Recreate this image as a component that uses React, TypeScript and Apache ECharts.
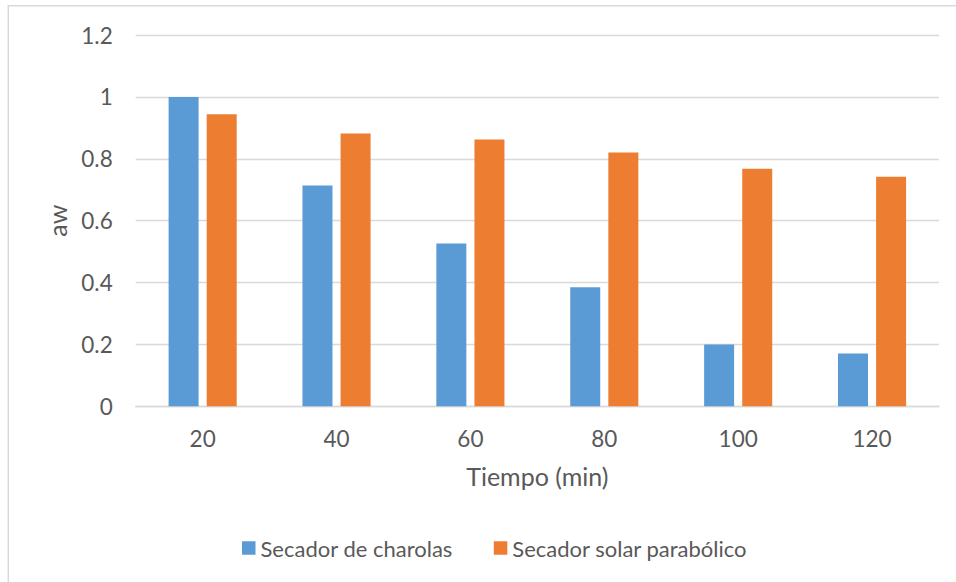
import React, { useEffect, useRef } from "react";
import * as echarts from "echarts";

const categories = ["20", "40", "60", "80", "100", "120"];
const charolas = [1.0, 0.714, 0.526, 0.385, 0.2, 0.171];
const parabolico = [0.944, 0.882, 0.862, 0.82, 0.768, 0.742];
const yTicks = { min: 0, max: 1.2, interval: 0.2 };

const FONT = "Lato";
const TEXT = "#595959";
const GRID = "#d9d9d9";

export default function App() {
  const ref = useRef<HTMLDivElement>(null);
  useEffect(() => {
    if (!ref.current) return;
    const chart = echarts.init(ref.current, null, { renderer: "svg" });
    chart.setOption({
      animation: false,
      backgroundColor: "#ffffff",
      textStyle: { fontFamily: FONT, color: TEXT },
      graphic: [
        {
          type: "rect",
          shape: { x: 8.3, y: 5.8, width: 1000, height: 1000 },
          style: { fill: "none", stroke: GRID, lineWidth: 1.5 },
          silent: true,
        },
      ],
      grid: { left: 135.7, right: 17, top: 35, bottom: 175.7, containLabel: false },
      legend: {
        left: 237,
        top: 532,
        itemWidth: 13.5,
        itemHeight: 13.5,
        itemGap: 41,
        icon: "rect",
        textStyle: { fontFamily: FONT, fontSize: 22, color: TEXT },
        data: ["Secador de charolas", "Secador solar parabólico"],
      },
      xAxis: {
        type: "category",
        data: categories,
        name: "Tiempo (min)",
        nameLocation: "middle",
        nameGap: 57,
        nameTextStyle: { fontFamily: FONT, fontSize: 25, color: TEXT },
        axisLine: { lineStyle: { color: GRID, width: 1.3 } },
        axisTick: { show: false },
        axisLabel: { fontFamily: FONT, fontSize: 22.5, color: TEXT, margin: 21 },
      },
      yAxis: {
        type: "value",
        min: yTicks.min,
        max: yTicks.max,
        interval: yTicks.interval,
        name: "aw",
        nameLocation: "middle",
        nameGap: 66,
        nameTextStyle: { fontFamily: FONT, fontSize: 25, color: TEXT },
        axisLine: { show: false },
        axisTick: { show: false },
        axisLabel: { fontFamily: FONT, fontSize: 22.5, color: TEXT, margin: 23 },
        splitLine: { lineStyle: { color: GRID, width: 1.3 } },
      },
      series: [
        {
          name: "Secador de charolas",
          type: "bar",
          data: charolas,
          barWidth: 30,
          barGap: "27%",
          itemStyle: { color: "#5b9bd5" },
        },
        {
          name: "Secador solar parabólico",
          type: "bar",
          data: parabolico,
          barWidth: 30,
          barGap: "27%",
          itemStyle: { color: "#ed7d31" },
        },
      ],
    });
    return () => chart.dispose();
  }, []);
  return (
    <div
      ref={ref}
      style={{ position: "absolute", left: 0, top: 0, width: 956, height: 582 }}
    />
  );
}
